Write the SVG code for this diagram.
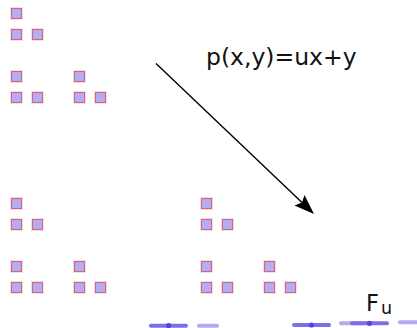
<svg xmlns="http://www.w3.org/2000/svg" width="417" height="328" viewBox="0 0 417 328">
<style>
.sq{fill:#b4adf5;stroke:#cf6878;stroke-width:1.1}
.halo{fill:none;stroke:#eab0b8;stroke-width:3;opacity:0.35}
.lbl{font-family:"DejaVu Sans",sans-serif;fill:#111}
.dk{stroke:#7b6fe9;stroke-width:4;stroke-linecap:round;fill:none}
.lt{stroke:#b2aaf3;stroke-width:4;stroke-linecap:round;fill:none}
.dot{fill:#5646d8}
</style>
<defs>
<g id="s"><rect class="halo" x="11.5" y="8.5" width="10" height="10"/><rect class="sq" x="11.5" y="8.5" width="10" height="10"/></g>
<g id="t"><use href="#s"/><use href="#s" y="21"/><use href="#s" x="21" y="21"/></g>
<g id="u"><use href="#t"/><use href="#t" y="63"/><use href="#t" x="63" y="63"/></g>
</defs>
<g id="cluster-top-left"><use href="#u"/></g>
<g id="cluster-bottom-left"><use href="#u" y="190"/></g>
<g id="cluster-bottom-right"><use href="#u" x="190" y="190"/></g>
<g id="connectors">
<line x1="156" y1="63.5" x2="302" y2="202.5" stroke="#000" stroke-width="1.4"/>
<polygon points="314,214 294.5,205.5 302,202.5 304.5,195" fill="#000"/>
</g>
<g id="label-p"><text class="lbl" x="206" y="65" font-size="23.5">p(x,y)=ux+y</text></g>
<g id="label-F"><text class="lbl" x="366" y="311" font-size="22.5">F</text><text class="lbl" x="381" y="314" font-size="17.5">u</text></g>
<g id="projection">
<line class="dk" x1="151" y1="325.7" x2="186" y2="325.7"/>
<circle class="dot" cx="168.5" cy="325.7" r="2.6"/>
<line class="lt" x1="199" y1="325.7" x2="217" y2="325.7"/>
<line class="dk" x1="294" y1="325" x2="329" y2="325"/>
<circle class="dot" cx="311.5" cy="325" r="2.6"/>
<line class="lt" x1="341" y1="323.3" x2="362" y2="323.3"/>
<line class="dk" x1="352" y1="323.3" x2="387" y2="323.3"/>
<circle class="dot" cx="369.5" cy="323.3" r="2.6"/>
<line class="lt" x1="400" y1="322.3" x2="420" y2="322.3"/>
</g>
</svg>
